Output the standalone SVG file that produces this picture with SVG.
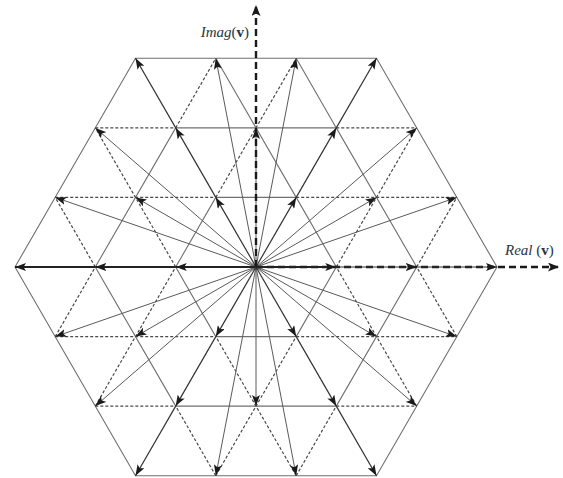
<svg xmlns="http://www.w3.org/2000/svg" width="563" height="478" viewBox="0 0 563 478">
<style>
.hex{fill:none;stroke:#707070;stroke-width:1.1}
.solid{fill:none;stroke:#707070;stroke-width:1.1}
.dash{stroke:#4a4a4a;stroke-width:1.2;stroke-dasharray:3 2;fill:none}
.spoke{stroke:#333;stroke-width:1.2;fill:none;marker-end:url(#ah)}
.vec{stroke:#5a5a5a;stroke-width:1;fill:none;marker-end:url(#ah)}
.axis{stroke:#1a1a1a;stroke-width:2.4;stroke-dasharray:7 4;fill:none;marker-end:url(#ax)}
.lbl{font-family:"Liberation Serif","Times New Roman",serif;font-size:15px;fill:#2b3440}
</style>
<defs>
<marker id="ah" viewBox="0 0 11 8" refX="11" refY="4" markerWidth="11" markerHeight="8" markerUnits="userSpaceOnUse" orient="auto"><path d="M0,0 L11,4 L0,8 L2.5,4 z" fill="#1a1a1a"/></marker>
<marker id="ax" viewBox="0 0 11 9" refX="10" refY="4.5" markerWidth="11" markerHeight="9" markerUnits="userSpaceOnUse" orient="auto"><path d="M0,0 L11,4.5 L0,9 L2.5,4.5 z" fill="#1a1a1a"/></marker>
</defs>

<g id="grid">
<polygon class="hex" points="15,267 135.5,58.3 376.5,58.3 497,267 376.5,475.7 135.5,475.7"/>
<polygon class="hex" points="95.3,267 175.7,127.9 336.3,127.9 416.7,267 336.3,406.1 175.7,406.1"/>
<polygon class="hex" points="175.7,267 215.8,197.4 296.2,197.4 336.3,267 296.2,336.6 215.8,336.6"/>
<line class="solid" x1="296.2" y1="197.4" x2="215.8" y2="58.3"/>
<line class="solid" x1="336.3" y1="127.9" x2="296.2" y2="58.3"/>
</g>

<g id="connectors">
<!-- dashed grid edges -->
<line class="dash" x1="95.3" y1="127.9" x2="175.7" y2="127.9"/>
<line class="dash" x1="336.3" y1="127.9" x2="416.7" y2="127.9"/>
<line class="dash" x1="95.3" y1="406.1" x2="175.7" y2="406.1"/>
<line class="dash" x1="336.3" y1="406.1" x2="416.7" y2="406.1"/>
<line class="dash" x1="55.2" y1="197.4" x2="215.8" y2="197.4"/>
<line class="dash" x1="296.2" y1="197.4" x2="456.8" y2="197.4"/>
<line class="dash" x1="55.2" y1="336.6" x2="215.8" y2="336.6"/>
<line class="dash" x1="296.2" y1="336.6" x2="456.8" y2="336.6"/>
<line class="dash" x1="215.8" y1="475.7" x2="296.2" y2="336.6"/>
<line class="dash" x1="336.3" y1="267" x2="416.7" y2="127.9"/>
<line class="dash" x1="296.2" y1="475.7" x2="336.3" y2="406.1"/>
<line class="dash" x1="416.7" y1="267" x2="456.8" y2="197.4"/>
<line class="dash" x1="95.3" y1="406.1" x2="175.7" y2="267"/>
<line class="dash" x1="215.8" y1="197.4" x2="296.2" y2="58.3"/>
<line class="dash" x1="55.2" y1="336.6" x2="95.3" y2="267"/>
<line class="dash" x1="175.7" y1="127.9" x2="215.8" y2="58.3"/>
<line class="dash" x1="416.7" y1="406.1" x2="336.3" y2="267"/>
<line class="dash" x1="456.8" y1="336.6" x2="416.7" y2="267"/>
<line class="dash" x1="296.2" y1="475.7" x2="215.8" y2="336.6"/>
<line class="dash" x1="175.7" y1="267" x2="95.3" y2="127.9"/>
<line class="dash" x1="215.8" y1="475.7" x2="175.7" y2="406.1"/>
<line class="dash" x1="95.3" y1="267" x2="55.2" y2="197.4"/>

<!-- thin vectors -->
<line class="vec" x1="256" y1="267" x2="55.2" y2="197.4"/>
<line class="vec" x1="256" y1="267" x2="135.5" y2="197.4"/>
<line class="vec" x1="256" y1="267" x2="376.5" y2="197.4"/>
<line class="vec" x1="256" y1="267" x2="456.8" y2="197.4"/>
<line class="vec" x1="256" y1="267" x2="95.3" y2="127.9"/>
<line class="vec" x1="256" y1="267" x2="256" y2="127.9"/>
<line class="vec" x1="256" y1="267" x2="416.7" y2="127.9"/>
<line class="vec" x1="256" y1="267" x2="215.8" y2="58.3"/>
<line class="vec" x1="256" y1="267" x2="296.2" y2="58.3"/>
<line class="vec" x1="256" y1="267" x2="55.2" y2="336.6"/>
<line class="vec" x1="256" y1="267" x2="135.5" y2="336.6"/>
<line class="vec" x1="256" y1="267" x2="376.5" y2="336.6"/>
<line class="vec" x1="256" y1="267" x2="456.8" y2="336.6"/>
<line class="vec" x1="256" y1="267" x2="95.3" y2="406.1"/>
<line class="vec" x1="256" y1="267" x2="256" y2="406.1"/>
<line class="vec" x1="256" y1="267" x2="416.7" y2="406.1"/>
<line class="vec" x1="256" y1="267" x2="215.8" y2="475.7"/>
<line class="vec" x1="256" y1="267" x2="296.2" y2="475.7"/>

<!-- spokes -->
<line class="spoke" x1="256" y1="267" x2="296.2" y2="197.4"/>
<line class="spoke" x1="296.2" y1="197.4" x2="336.3" y2="127.9"/>
<line class="spoke" x1="336.3" y1="127.9" x2="376.5" y2="58.3"/>
<line class="spoke" x1="256" y1="267" x2="215.8" y2="197.4"/>
<line class="spoke" x1="215.8" y1="197.4" x2="175.7" y2="127.9"/>
<line class="spoke" x1="175.7" y1="127.9" x2="135.5" y2="58.3"/>
<line class="spoke" x1="256" y1="267" x2="175.7" y2="267" style="stroke-width:2;stroke:#222"/>
<line class="spoke" x1="175.7" y1="267" x2="95.3" y2="267" style="stroke-width:2;stroke:#222"/>
<line class="spoke" x1="95.3" y1="267" x2="15" y2="267" style="stroke-width:2;stroke:#222"/>
<line class="spoke" x1="256" y1="267" x2="215.8" y2="336.6"/>
<line class="spoke" x1="215.8" y1="336.6" x2="175.7" y2="406.1"/>
<line class="spoke" x1="175.7" y1="406.1" x2="135.5" y2="475.7"/>
<line class="spoke" x1="256" y1="267" x2="296.2" y2="336.6"/>
<line class="spoke" x1="296.2" y1="336.6" x2="336.3" y2="406.1"/>
<line class="spoke" x1="336.3" y1="406.1" x2="376.5" y2="475.7"/>

<!-- axes -->
<line class="axis" x1="256" y1="267" x2="256" y2="6"/>
<line class="axis" x1="256" y1="267" x2="558" y2="267"/>

<!-- real-axis spokes on top -->
<line class="spoke" x1="256" y1="267" x2="336.3" y2="267" style="stroke-width:2;stroke:#222"/>
<line class="spoke" x1="336.3" y1="267" x2="416.7" y2="267"/>
<line class="spoke" x1="416.7" y1="267" x2="497" y2="267"/>
</g>

<g id="labels">
<text class="lbl" x="249" y="37" text-anchor="end"><tspan font-style="italic">Imag</tspan>(<tspan font-weight="bold">v</tspan>)</text>
<text class="lbl" x="505" y="255"><tspan font-style="italic">Real</tspan> (<tspan font-weight="bold">v</tspan>)</text>
</g>
</svg>
